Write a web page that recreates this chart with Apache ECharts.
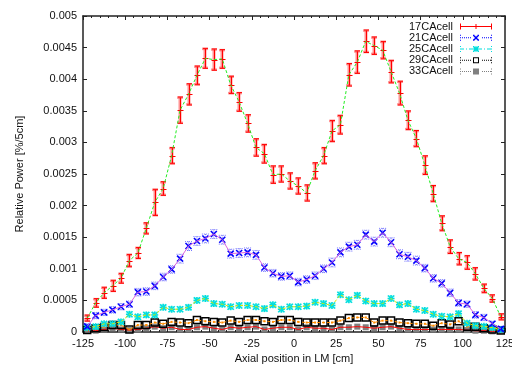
<!DOCTYPE html>
<html><head><meta charset="utf-8">
<script src="https://cdn.jsdelivr.net/npm/echarts@6/dist/echarts.min.js"></script>
<style>html,body{margin:0;padding:0;background:#fff}#c{width:512px;height:367px}</style>
</head><body><div id="c"></div>
<script>
// ---- data ----
const positions = [-122.5,-117.5,-112.5,-107.5,-102.5,-97.5,-92.5,-87.5,-82.5,-77.5,-72.5,-67.5,-62.5,-57.5,-52.5,-47.5,-42.5,-37.5,-32.5,-27.5,-22.5,-17.5,-12.5,-7.5,-2.5,2.5,7.5,12.5,17.5,22.5,27.5,32.5,37.5,42.5,47.5,52.5,57.5,62.5,67.5,72.5,77.5,82.5,87.5,92.5,97.5,102.5,107.5,112.5,117.5,122.5];
const cell17 = [0.00022,0.00046,0.00062,0.00073,0.00085,0.00113,0.00125,0.00164,0.00205,0.00227,0.00279,0.00351,0.00376,0.00406,0.00433,0.00431,0.00432,0.00391,0.00364,0.00330,0.00292,0.00282,0.00249,0.00250,0.00239,0.00231,0.00220,0.00255,0.00279,0.00318,0.00328,0.00407,0.00427,0.00460,0.00453,0.00446,0.00412,0.00378,0.00335,0.00306,0.00264,0.00219,0.00172,0.00135,0.00116,0.00110,0.00092,0.00069,0.00053,0.00024];
const err17 = [0.00004,0.00006,0.00008,0.00008,0.00007,0.00009,0.00008,0.00008,0.00020,0.00010,0.00012,0.00020,0.00016,0.00014,0.00015,0.00016,0.00014,0.00013,0.00014,0.00013,0.00013,0.00014,0.00013,0.00012,0.00012,0.00012,0.00012,0.00012,0.00012,0.00016,0.00014,0.00017,0.00017,0.00017,0.00013,0.00013,0.00017,0.00018,0.00014,0.00012,0.00014,0.00012,0.00011,0.00010,0.00009,0.00010,0.00009,0.00006,0.00005,0.00004];
const cell21 = [0.00009,0.00026,0.00031,0.00035,0.00040,0.00044,0.00063,0.00064,0.00073,0.00087,0.00099,0.00116,0.00136,0.00144,0.00148,0.00155,0.00146,0.00124,0.00125,0.00126,0.00122,0.00102,0.00093,0.00088,0.00089,0.00079,0.00083,0.00089,0.00100,0.00110,0.00126,0.00135,0.00138,0.00154,0.00143,0.00157,0.00142,0.00123,0.00119,0.00113,0.00101,0.00085,0.00077,0.00062,0.00046,0.00044,0.00027,0.00023,0.00013,0.00005];
const err21 = [0.00004,0.00005,0.00005,0.00005,0.00005,0.00005,0.00006,0.00006,0.00006,0.00006,0.00006,0.00007,0.00007,0.00007,0.00007,0.00007,0.00007,0.00007,0.00007,0.00007,0.00007,0.00006,0.00006,0.00006,0.00006,0.00006,0.00006,0.00006,0.00006,0.00007,0.00007,0.00007,0.00007,0.00007,0.00007,0.00007,0.00007,0.00007,0.00007,0.00007,0.00006,0.00006,0.00006,0.00006,0.00005,0.00005,0.00005,0.00005,0.00004,0.00004];
const cell25 = [0.00007,0.000085,0.00013,0.00013,0.00016,0.00028,0.00024,0.00027,0.00027,0.00039,0.00036,0.00036,0.00039,0.00050,0.00053,0.00045,0.00044,0.00040,0.00042,0.00042,0.00040,0.00037,0.00043,0.00036,0.00040,0.00040,0.00041,0.00047,0.00045,0.00042,0.00059,0.00051,0.00058,0.00049,0.00045,0.00045,0.00053,0.00043,0.00045,0.00036,0.00034,0.00028,0.00025,0.00024,0.00029,0.00014,0.00010,0.00009,0.00007,0.00004];
const err25 = [0.00003,0.00003,0.00003,0.00003,0.00004,0.00004,0.00004,0.00004,0.00004,0.00004,0.00004,0.00004,0.00004,0.00004,0.00004,0.00004,0.00004,0.00004,0.00004,0.00004,0.00004,0.00004,0.00004,0.00004,0.00004,0.00004,0.00004,0.00004,0.00004,0.00004,0.00004,0.00004,0.00004,0.00004,0.00004,0.00004,0.00004,0.00004,0.00004,0.00004,0.00004,0.00004,0.00004,0.00004,0.00004,0.00003,0.00003,0.00003,0.00003,0.00003];
const cell29 = [0.00003,0.00006,0.00008,0.00011,0.00011,0.00004,0.00011,0.00011,0.00015,0.00013,0.00016,0.00015,0.00014,0.00019,0.00017,0.00016,0.00015,0.00018,0.00016,0.00019,0.00019,0.00017,0.00016,0.00019,0.00019,0.00016,0.00015,0.00015,0.00015,0.00015,0.00018,0.00022,0.00023,0.00023,0.00015,0.00018,0.00018,0.00015,0.00014,0.00013,0.00013,0.00010,0.00014,0.00012,0.00017,0.000085,0.000085,0.00006,0.00004,0.000025];
const cell33 = [0.00002,0.00002,0.00004,0.00006,0.00004,0.00003,0.00004,0.00006,0.000085,0.00006,0.000075,0.00004,0.00004,0.000075,0.000085,0.00006,0.00004,0.000075,0.00006,0.000075,0.000085,0.00004,0.00006,0.000075,0.000075,0.00004,0.000075,0.00006,0.00006,0.00004,0.000075,0.000075,0.000085,0.000075,0.00006,0.000075,0.000085,0.00006,0.00004,0.00004,0.00004,0.00004,0.00004,0.00004,0.00004,0.00003,0.00002,0.00002,0.00001,0.00002];
const seriesNames = ['17CAcell','21CAcell','25CAcell','29CAcell','33CAcell'];
const xTickLabels = [-125,-100,-75,-50,-25,0,25,50,75,100,125];
const yTickLabels = [0,0.0005,0.001,0.0015,0.002,0.0025,0.003,0.0035,0.004,0.0045,0.005];

// ---- styling ----
const FONT = "'Liberation Sans', Arial, sans-serif";
const AX = '#222';
const colors = ['#ff0000','#0000ff','#00dede','#000000','#808080'];

function R(x,y,w,h){return 'M'+x+' '+y+'L'+(x+w)+' '+y+'L'+(x+w)+' '+(y+h)+'L'+x+' '+(y+h)+'Z';}
function dots(step, skipA, skipB){let s='';for(let x=0;x<31;x+=step){if(x>=skipA&&x<=skipB)continue;s+=R(x,2.5,1,1);}return s;}
function caps(){return R(0,0,1,1)+R(0,2.5,1,1)+R(0,5,1,1)+R(31,0,1,1)+R(31,2.5,1,1)+R(31,5,1,1);}
function xMark(){let s='';for(let t=0;t<6;t++){s+=R(13+t*0.9,t*0.9,1.5,1.5)+R(17.5-t*0.9,t*0.9,1.5,1.5);}return s;}
const icons = [
  'path://'+R(0,2.5,32,1)+R(0,0,1,6)+R(31,0,1,6)+R(15.5,0.5,1,5),
  'path://'+dots(2,12,20)+caps()+xMark(),
  'path://'+(function(){let s='';for(let x=0;x<30;x+=9){s+=R(x,2.5,4,1);if(x+6<31)s+=R(x+6,2.5,1,1);}return s;})()+caps()+xMark()+R(15.5,0,1,6)+R(13,2.5,6,1),
  'path://'+dots(2,12,20)+caps()+R(13,0,6,1)+R(13,5,6,1)+R(13,0,1,6)+R(18,0,1,6),
  'path://'+dots(2,12,20)+caps()+R(13,0,6,6)
];

function pts(vals, errs){return positions.map((x,i)=>[x, vals[i], errs?errs[i]:0]);}
function ln(x1,y1,x2,y2,style){return {type:'line',shape:{x1,y1,x2,y2},style};}

function renderRed(params, api){
  const x=api.value(0),y=api.value(1),e=api.value(2);
  const p=api.coord([x,y]),lo=api.coord([x,y-e]),hi=api.coord([x,y+e]);
  const cx=Math.round(p[0]);
  const light={stroke:'rgba(255,60,60,0.55)',lineWidth:3};
  const dark={stroke:'#ff0000',lineWidth:1};
  return {type:'group',children:[
    ln(cx,lo[1],cx,hi[1],light),
    ln(cx-3,lo[1],cx+3,lo[1],{stroke:'rgba(255,60,60,0.55)',lineWidth:2.5}),
    ln(cx-3,hi[1],cx+3,hi[1],{stroke:'rgba(255,60,60,0.55)',lineWidth:2.5}),
    ln(cx+0.5,lo[1],cx+0.5,hi[1],dark),
    ln(cx-2,lo[1]+0.5,cx+3,lo[1]+0.5,dark),
    ln(cx-2,hi[1]-0.5,cx+3,hi[1]-0.5,dark),
    ln(cx-2.5,Math.round(p[1])+0.5,cx+3.5,Math.round(p[1])+0.5,dark)
  ]};
}
function makeDotted(color, marker){
  return function(params, api){
    const x=api.value(0),y=api.value(1),e=api.value(2);
    const p=api.coord([x,y]),lo=api.coord([x,y-e]),hi=api.coord([x,y+e]);
    const cx=p[0],cy=p[1];
    const dst={stroke:color,lineWidth:1,lineDash:[1,1],opacity:0.55};
    const ch=[
      ln(cx,lo[1],cx,hi[1],dst),
      ln(cx-3.5,lo[1],cx+3.5,lo[1],dst),
      ln(cx-3.5,hi[1],cx+3.5,hi[1],dst)
    ];
    const ms={stroke:color,lineWidth:1.6};
    ch.push(ln(cx-3,cy-3,cx+3,cy+3,ms),ln(cx-3,cy+3,cx+3,cy-3,ms));
    if(marker==='star'){ch.push(ln(cx,cy-3.5,cx,cy+3.5,ms),ln(cx-3.5,cy,cx+3.5,cy,ms));}
    return {type:'group',children:ch};
  };
}
function renderOpenSq(params, api){
  const p=api.coord([api.value(0),api.value(1)]);
  return {type:'rect',shape:{x:p[0]-3.5,y:p[1]-3.5,width:7,height:7},style:{stroke:'#000',lineWidth:1.5,fill:'none'}};
}
function renderFilledSq(params, api){
  const p=api.coord([api.value(0),api.value(1)]);
  return {type:'rect',shape:{x:p[0]-3,y:p[1]-3,width:6,height:6},style:{fill:'#808080'}};
}
function lineSeries(name, vals, color, dash, z, sym){
  return {type:'line',name,data:pts(vals).map(d=>[d[0],d[1]]),showSymbol:!!sym,symbol:'rect',symbolSize:2,
    itemStyle:{color},lineStyle:{color,width:1,type:dash},z,silent:true,animation:false};
}
function customSeries(name, vals, errs, render, color, z){
  return {type:'custom',name,data:pts(vals,errs),renderItem:render,encode:{x:0,y:1},itemStyle:{color},z,animation:false,silent:true};
}

const axisCommon = {
  axisLine:{show:true,onZero:false,lineStyle:{color:AX,width:1.5}},
  axisTick:{show:true,inside:true,length:4,lineStyle:{color:AX,width:1}},
  splitLine:{show:false}
};
const labelStyle = {color:'#111',fontSize:11,fontFamily:FONT};

const option = {
  animation:false,
  backgroundColor:'#fff',
  grid:{left:83,right:7,top:16,bottom:35,containLabel:false,outerBoundsMode:'none'},
  xAxis:[
    Object.assign({type:'value',position:'bottom',min:xTickLabels[0],max:xTickLabels[xTickLabels.length-1],interval:25,
      minorTick:{show:true,splitNumber:5,length:2,lineStyle:{color:AX}},
      axisLabel:Object.assign({margin:6,showMinLabel:true,showMaxLabel:true},labelStyle),
      name:'Axial position in LM [cm]',nameLocation:'middle',nameGap:17,nameTextStyle:labelStyle},axisCommon),
    Object.assign({type:'value',position:'top',min:xTickLabels[0],max:xTickLabels[xTickLabels.length-1],interval:25,
      minorTick:{show:true,splitNumber:5,length:2,lineStyle:{color:AX}},
      axisLabel:{show:false}},axisCommon)
  ],
  yAxis:[
    Object.assign({type:'value',position:'left',min:yTickLabels[0],max:yTickLabels[yTickLabels.length-1],interval:0.0005,
      axisLabel:Object.assign({margin:6,showMinLabel:true,showMaxLabel:true},labelStyle),
      name:'Relative Power [%/5cm]',nameLocation:'middle',nameGap:58,nameRotate:90,nameTextStyle:labelStyle},axisCommon),
    Object.assign({type:'value',position:'right',min:yTickLabels[0],max:yTickLabels[yTickLabels.length-1],interval:0.0005,
      axisLabel:{show:false}},axisCommon)
  ],
  legend:{
    orient:'vertical',right:20,top:21,align:'right',itemWidth:32,itemHeight:6,itemGap:0,padding:0,
    selectedMode:false,
    textStyle:{fontSize:11,fontFamily:FONT,color:'#111',lineHeight:11.2,padding:[0,2,0,0]},
    data:seriesNames.map((n,i)=>({name:n,icon:icons[i],itemStyle:{color:colors[i],borderWidth:0}}))
  },
  series:[
    customSeries('33CAcell',cell33,null,renderFilledSq,colors[4],1),
    lineSeries('33calc',cell33,'#ff0000','solid',2,false),
    customSeries('29CAcell',cell29,null,renderOpenSq,colors[3],3),
    lineSeries('29calc',cell29,'#ff8c00',[3,2],4,true),
    customSeries('25CAcell',cell25,err25,makeDotted(colors[2],'star'),colors[2],5),
    lineSeries('25calc',cell25,'#e6e600',[3,2],6,false),
    customSeries('21CAcell',cell21,err21,makeDotted(colors[1],'x'),colors[1],7),
    lineSeries('21calc',cell21,'#dd66dd','solid',8,false),
    customSeries('17CAcell',cell17,err17,renderRed,colors[0],9),
    lineSeries('17calc',cell17,'#22ee22',[3,2],10,false)
  ]
};
const chart = echarts.init(document.getElementById('c'),null,{renderer:'canvas'});
chart.setOption(option);
</script>
</body></html>
